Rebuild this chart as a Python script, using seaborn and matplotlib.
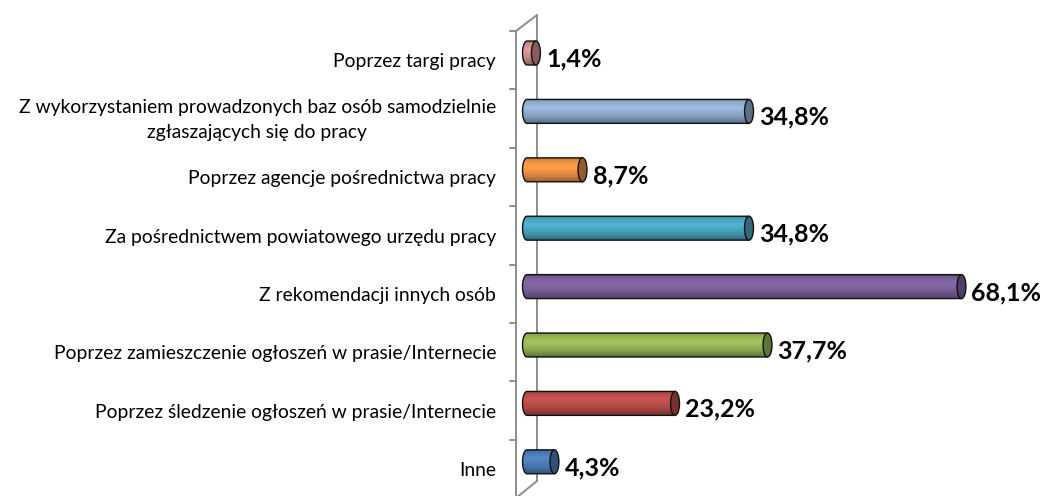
import numpy as np
import matplotlib
matplotlib.use("Agg")
import matplotlib.pyplot as plt
from matplotlib.patches import Ellipse, PathPatch
from matplotlib.path import Path
from matplotlib.colors import to_rgb
import seaborn as sns

categories = [
    "Poprzez targi pracy",
    "Z wykorzystaniem prowadzonych baz osób samodzielnie\nzgłaszających się do pracy",
    "Poprzez agencje pośrednictwa pracy",
    "Za pośrednictwem powiatowego urzędu pracy",
    "Z rekomendacji innych osób",
    "Poprzez zamieszczenie ogłoszeń w prasie/Internecie",
    "Poprzez śledzenie ogłoszeń w prasie/Internecie",
    "Inne",
]
values = [1.4, 34.8, 8.7, 34.8, 68.1, 37.7, 23.2, 4.3]
colors = ["#D99694", "#95B3D7", "#F79646", "#4BACC6",
          "#8064A2", "#9BBB59", "#C0504D", "#4F81BD"]

sns.set_theme(style="white")
plt.rcParams["font.family"] = ["Lato", "DejaVu Sans"]

W, H = 1041, 496
fig = plt.figure(figsize=(W / 100, H / 100), dpi=100)
ax = fig.add_axes([0, 0, 1, 1])

sns.barplot(x=values, y=categories, hue=categories, palette=colors,
            orient="h", width=0.41, legend=False, ax=ax, saturation=1)

# pixel -> data mapping for the layout
PX0, SX = 527.0, 6.38       # x pixel of value 0, pixels per percent
PY0, SY = 53.0, 58.4        # y pixel of first category, pixels per category
ax.set_xlim(-PX0 / SX, (W - PX0) / SX)
ax.set_ylim((H - PY0) / SY, -PY0 / SY)
ax.axis("off")

def px2x(p):
    return (p - PX0) / SX

def py2y(p):
    return (p - PY0) / SY

# 3-D wall of the category axis
wall_col = "#8C8C8C"
fx, bx = px2x(516), px2x(537)
ytop_f, ybot_f = py2y(31), py2y(498)
ytop_b, ybot_b = py2y(15), py2y(481)
ax.plot([fx, fx], [ytop_f, ybot_f], color=wall_col, lw=1.4, zorder=0.5)
ax.plot([bx, bx], [ytop_b, ybot_b], color=wall_col, lw=1.4, zorder=0.5)
ax.plot([fx, bx], [ytop_f, ytop_b], color=wall_col, lw=1.4, zorder=0.5)
ax.plot([fx, bx], [ybot_f, ybot_b], color=wall_col, lw=1.4, zorder=0.5)
for k in range(9):
    yk = py2y(31 + SY * k)
    ax.plot([px2x(510), fx], [yk, yk], color=wall_col, lw=1.4, zorder=0.5)

# shading profile across the cylinder (0 = top edge, 1 = bottom edge)
t = np.linspace(0, 1, 64)
shade = np.interp(t, [0, 0.08, 0.35, 0.7, 1.0], [0.72, 0.92, 1.06, 0.9, 0.62])

cap_rx = 0.7   # half width of the end ellipses, in percent units
for bar, col in zip(ax.patches, colors):
    x0 = bar.get_x()
    x1 = x0 + bar.get_width()
    yc = bar.get_y() + bar.get_height() / 2
    hh = bar.get_height() / 2
    bar.set_visible(False)
    base = np.array(to_rgb(col))

    # body outline: straight sides plus the rounded back end
    n = 30
    ang = np.linspace(np.pi / 2, 3 * np.pi / 2, n)
    lx = x0 + cap_rx * np.cos(ang)
    ly = yc - hh * np.sin(ang)
    verts = [(x1, yc - hh)] + list(zip(lx, ly)) + [(x1, yc + hh), (x1, yc - hh)]
    body = PathPatch(Path(verts, closed=False), facecolor="none",
                     edgecolor="#111111", lw=1.0, zorder=3)
    ax.add_patch(body)

    img = np.clip(base[None, None, :] * shade[:, None, None], 0, 1)
    im = ax.imshow(img, extent=(x0 - cap_rx, x1, yc + hh, yc - hh),
                   origin="upper", aspect="auto", interpolation="bilinear",
                   zorder=2)
    im.set_clip_path(body)

    cap = Ellipse((x1, yc), 2 * cap_rx, 2 * hh,
                  facecolor=np.clip(base * 0.62, 0, 1),
                  edgecolor="#111111", lw=1.0, zorder=4)
    ax.add_patch(cap)

    val = (x1 - x0)
    ax.text(x1 + px2x(PX0 + 10), yc + py2y(PY0 + 6),
            f"{val:.1f}".replace(".", ",") + "%",
            ha="left", va="center", fontsize=18, fontweight="bold",
            color="#000000", zorder=5)

ax.set_xlim(-PX0 / SX, (W - PX0) / SX)
ax.set_ylim((H - PY0) / SY, -PY0 / SY)

# category labels to the left of the wall
for i, cat in enumerate(categories):
    ax.text(px2x(496), i + py2y(PY0 + 9), cat, ha="right", va="center",
            multialignment="center", fontsize=13.9, linespacing=1.58,
            color="#000000")

fig.savefig("out.png", dpi=100)
